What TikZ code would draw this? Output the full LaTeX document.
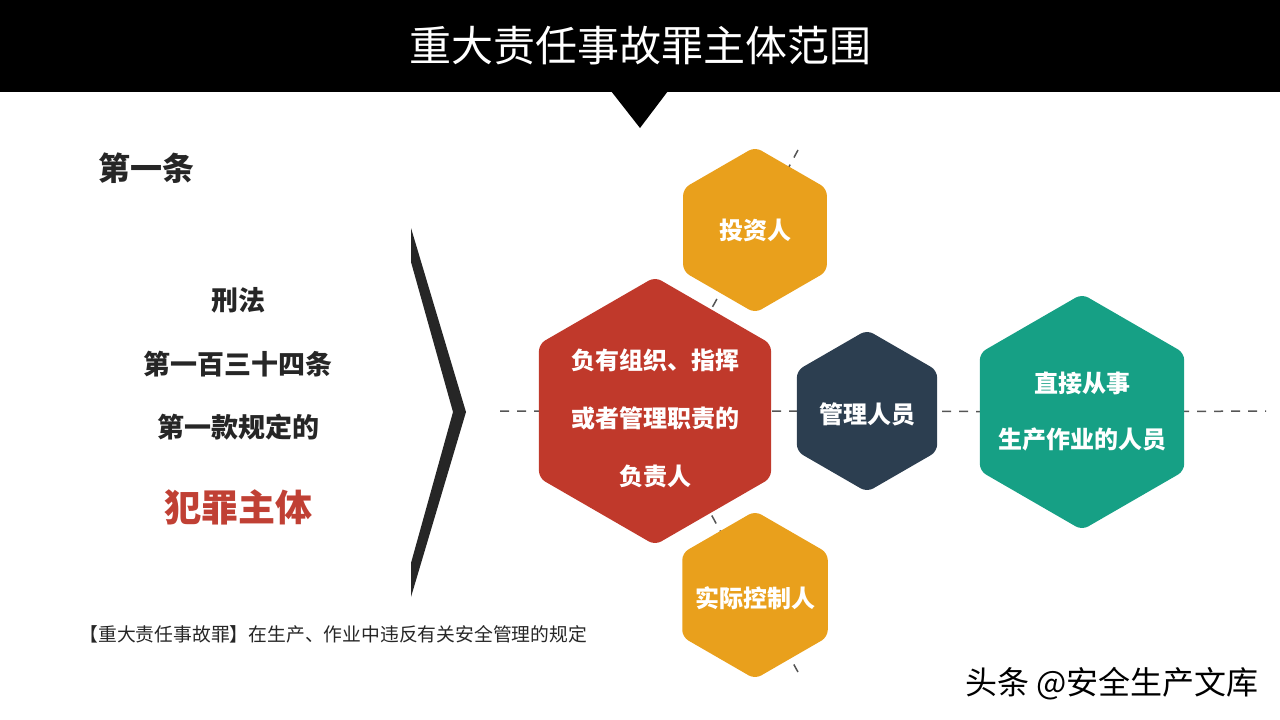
\documentclass[tikz,border=0pt]{standalone}
\usepackage{fontspec}
\setmainfont{Noto Sans CJK SC}
\usepackage{xcolor}
\usepackage{tikz}
\usetikzlibrary{shapes.geometric, positioning, backgrounds}
\definecolor{hexorange}{RGB}{233, 160, 28}
\definecolor{hexred}{RGB}{192, 57, 43}
\definecolor{hexnavy}{RGB}{44, 62, 80}
\definecolor{hexgreen}{RGB}{22, 160, 133}
\definecolor{textdark}{RGB}{38, 38, 38}
\definecolor{dashgray}{RGB}{85, 85, 85}
\definecolor{crimered}{RGB}{192, 64, 52}

\begin{document}
\begin{tikzpicture}[
    x=1pt, y=-1pt,
    hexa/.style={regular polygon, regular polygon sides=6, shape border rotate=30, rounded corners=7pt, inner sep=0pt},
    hexlabel/.style={text=white, align=center, font=\fontsize{24}{30}\selectfont\bfseries},
    lawtext/.style={text=textdark, font=\fontsize{27}{32}\selectfont\bfseries},
    link/.style={draw=dashgray, line width=1.5pt, dash pattern=on 9pt off 8pt}
]
    \useasboundingbox (0,0) rectangle (1280,720);

    % Header
    \fill[black] (0,0) rectangle (1280,92);
    \fill[black] (611,91) -- (668,91) -- (640,128) -- cycle;
    \node[text=white, font=\fontsize{42}{48}\selectfont] (title) at (640,46) {重大责任事故罪主体范围};

    % Left side
    \node[text=textdark, font=\fontsize{32}{38}\selectfont\bfseries] (article) at (146,168) {第一条};
    \node[lawtext] (law) at (238,300) {刑法};
    \node[lawtext] (clause) at (238,364) {第一百三十四条};
    \node[lawtext] (para) at (238,427) {第一款规定的};
    \node[text=crimered, font=\fontsize{37}{44}\selectfont\bfseries] (subject) at (238,507) {犯罪主体};
    \fill[textdark] (411,228) -- (466,412) -- (411,597) -- (411,563) -- (453,412) -- (411,262) -- cycle;
    \node[text=textdark, font=\fontsize{18.8}{22}\selectfont, anchor=west] (note) at (76,634) {【重大责任事故罪】在生产、作业中违反有关安全管理的规定};

    % Hexagons
    \node[hexa, fill=hexred, minimum size=268pt] (leader) at (655,411) {};
    \node[hexa, fill=hexorange, minimum size=166pt] (investor) at (755,230) {};
    \node[hexa, fill=hexorange, minimum size=168pt] (controller) at (755,595) {};
    \node[hexa, fill=hexnavy, minimum size=162pt] (manager) at (867,411) {};
    \node[hexa, fill=hexgreen, minimum size=236pt] (worker) at (1082,412) {};

    % Hexagon labels
    \node[hexlabel, font=\fontsize{24}{58}\selectfont\bfseries] (leaderText) at ([yshift=-7pt]leader.center) {负有组织、指挥\\或者管理职责的\\负责人};
    \node[hexlabel] (investorText) at (investor.center) {投资人};
    \node[hexlabel] (controllerText) at ([yshift=-3pt]controller.center) {实际控制人};
    \node[hexlabel] (managerText) at ([yshift=-3pt]manager.center) {管理人员};
    \node[hexlabel, font=\fontsize{24}{56}\selectfont\bfseries] (workerText) at (worker.center) {直接从事\\生产作业的人员};

    % Dashed links
    \coordinate (lineL) at (500,411);
    \coordinate (lineR) at (1266,411);
    \coordinate (topEnd) at (798,150);
    \coordinate (botEnd) at (798,672);
    \begin{scope}[on background layer]
        \draw[link] (lineL) -- (leader.center) -- (manager.center) -- (worker.center) -- (lineR);
        \draw[link] (leader.center) -- (investor.center) -- (topEnd);
        \draw[link] (leader.center) -- (controller.center) -- (botEnd);
    \end{scope}

    % Watermark
    \node[text=black, font=\fontsize{32}{36}\selectfont, anchor=east] (mark) at (1262,684) {头条 @安全生产文库};
\end{tikzpicture}
\end{document}
